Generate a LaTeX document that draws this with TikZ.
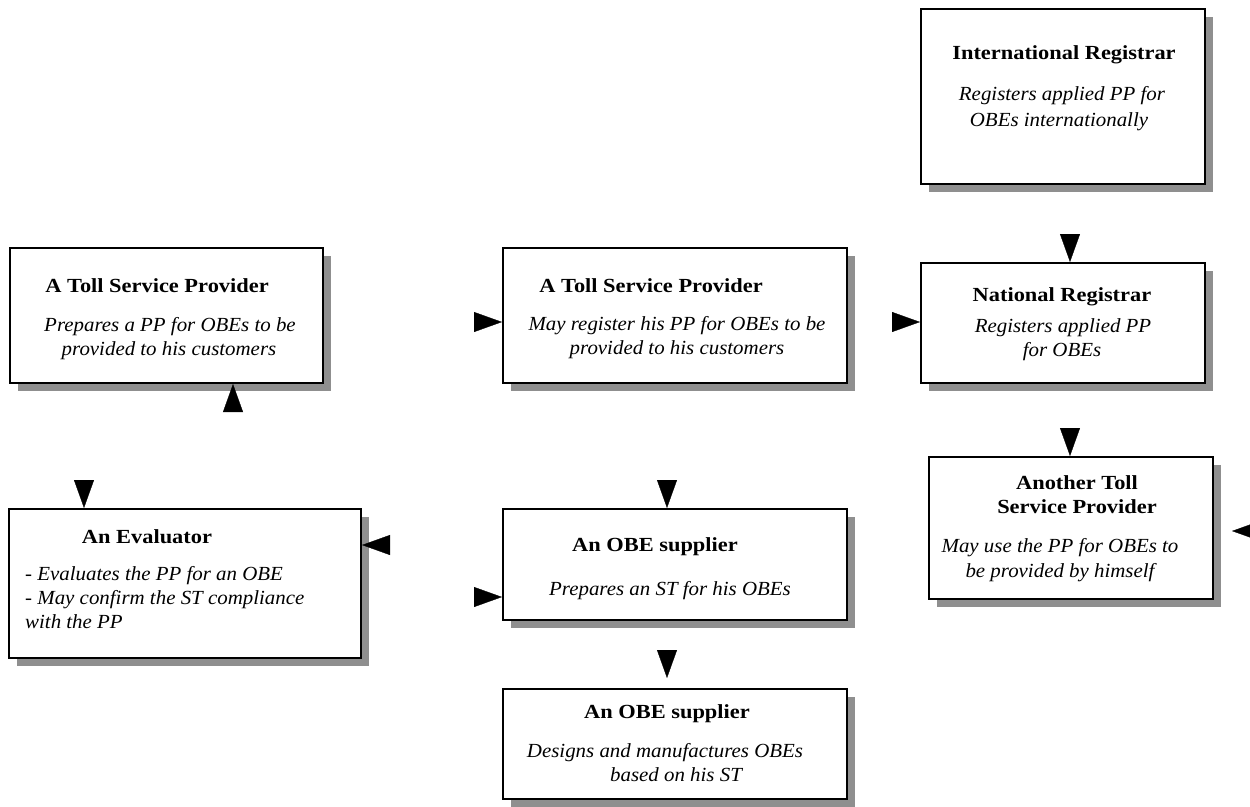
\documentclass[tikz,border=0pt]{standalone}
\usepackage{fontspec}
\setmainfont{Liberation Serif}[
  BoldFeatures={FakeStretch=1.12},
  ItalicFeatures={FakeStretch=1.045}]
\usetikzlibrary{arrows.meta,shadows}
\definecolor{shade}{HTML}{8F8F8F}
\begin{document}
\begin{tikzpicture}[x=1pt,y=-1pt,
  card/.style={draw=black, line width=2pt, fill=white, inner sep=0pt, anchor=north west,
    drop shadow={shadow xshift=8pt, shadow yshift=-8pt, fill=shade, opacity=1}},
  head/.style={anchor=base, inner sep=0pt, font=\fontsize{20}{24}\selectfont\bfseries},
  body/.style={anchor=base, inner sep=0pt, font=\fontsize{20}{24}\selectfont\itshape},
  tip/.style={-{Triangle[length=28pt,width=20pt]}, line width=0.3pt}]
\useasboundingbox (0,0) rectangle (1250,806);

% boxes
\node[card, minimum width=313pt, minimum height=135pt] (tspL) at (9,247) {};
\node[card, minimum width=344pt, minimum height=135pt] (tspM) at (502,247) {};
\node[card, minimum width=284pt, minimum height=175pt] (ir) at (920,8) {};
\node[card, minimum width=284pt, minimum height=120pt] (nr) at (920,262) {};
\node[card, minimum width=284pt, minimum height=142pt] (atsp) at (928,456) {};
\node[card, minimum width=352pt, minimum height=149pt] (eval) at (8,508) {};
\node[card, minimum width=344pt, minimum height=111pt] (obeA) at (502,508) {};
\node[card, minimum width=344pt, minimum height=110pt] (obeB) at (502,688) {};

% texts
\node[head] (tspLh) at (157,292) {A Toll Service Provider};
\node[body] (tspLb1) at (170,331) {Prepares a PP for OBEs to be};
\node[body] (tspLb2) at (169,355) {provided to his customers};

\node[head] (tspMh) at (651,292) {A Toll Service Provider};
\node[body] (tspMb1) at (677,330) {May register his PP for OBEs to be};
\node[body] (tspMb2) at (677,354) {provided to his customers};

\node[head] (irh) at (1064,59) {International Registrar};
\node[body] (irb1) at (1062,100) {Registers applied PP for};
\node[body] (irb2) at (1059,126) {OBEs internationally};

\node[head] (nrh) at (1062,301) {National Registrar};
\node[body] (nrb1) at (1063,332) {Registers applied PP};
\node[body] (nrb2) at (1062,356) {for OBEs};

\node[head] (atsph1) at (1077,489) {Another Toll};
\node[head] (atsph2) at (1077,513) {Service Provider};
\node[body] (atspb1) at (1060,552) {May use the PP for OBEs to};
\node[body] (atspb2) at (1060,577) {be provided by himself};

\node[head] (evalh) at (147,543) {An Evaluator};
\node[body, anchor=base west] (evalb1) at (25,580) {- Evaluates the PP for an OBE};
\node[body, anchor=base west] (evalb2) at (25,604) {- May confirm the ST compliance};
\node[body, anchor=base west] (evalb3) at (25,628) {with the PP};

\node[head] (obeAh) at (655,551) {An OBE supplier};
\node[body] (obeAb) at (670,595) {Prepares an ST for his OBEs};

\node[head] (obeBh) at (667,718) {An OBE supplier};
\node[body] (obeBb1) at (665,757) {Designs and manufactures OBEs};
\node[body] (obeBb2) at (676,781) {based on his ST};

% connector ends (only the heads show)
\coordinate (a1) at (233,408);
\coordinate (a2) at (477,322);
\coordinate (a3) at (895,322);
\coordinate (a4) at (1070,237);
\coordinate (a5) at (1070,431);
\coordinate (a6) at (84,482);
\coordinate (a7) at (387,545);
\coordinate (a8) at (667,482);
\coordinate (a9) at (477,597);
\coordinate (a10) at (667,653);
\coordinate (a11) at (1256,531);

\draw[tip] (a1) -- (a1 |- tspL.south);
\draw[tip] (a2) -- (tspM.west |- a2);
\draw[tip] (a3) -- (nr.west |- a3);
\draw[tip] (a4) -- (a4 |- nr.north);
\draw[tip] (a5) -- (a5 |- atsp.north);
\draw[tip] (a6) -- (a6 |- eval.north);
\draw[tip] (a7) -- (eval.east |- a7);
\draw[tip] (a8) -- (a8 |- obeA.north);
\draw[tip] (a9) -- (obeA.west |- a9);
\draw[tip, shorten >=10pt] (a10) -- (a10 |- obeB.north);
\draw[tip, shorten >=18pt] (a11) -- (atsp.east |- a11);
\end{tikzpicture}
\end{document}
